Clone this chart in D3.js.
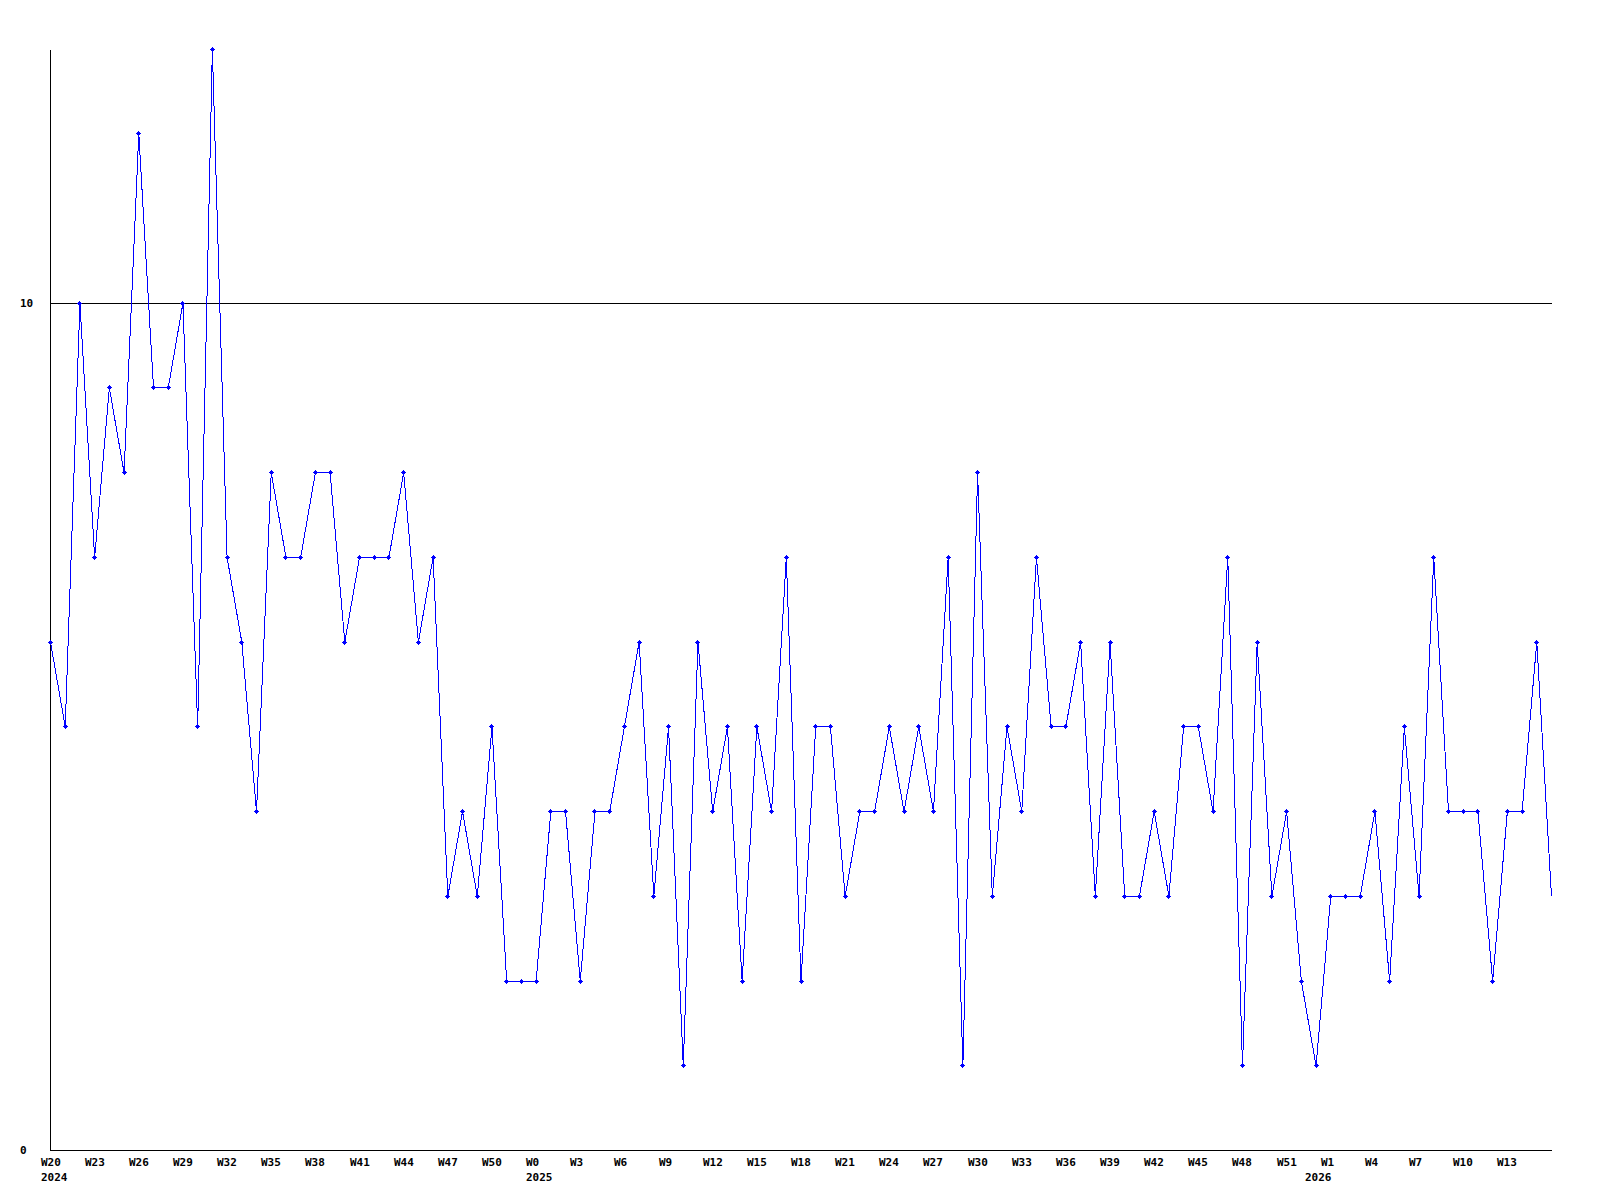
<!DOCTYPE html>
<html><head><meta charset="utf-8">
<script src="https://cdn.jsdelivr.net/npm/d3@7"></script>
<style>
html,body{margin:0;padding:0;background:#fff;}
svg{display:block;}
text{font-family:"DejaVu Sans Mono","Liberation Mono",monospace;font-weight:bold;font-size:11px;fill:#000;}
</style></head>
<body>
<svg id="chart" width="1600" height="1200"></svg>
<script>
// Weekly values, W20 2024 .. W14 2026
const values = [
  6,5,10,7,9,8,12,9,9,10,
  5,13,7,6,4,8,7,7,8,8,
  6,7,7,7,8,6,7,3,4,3,
  5,2,2,2,4,4,2,4,4,5,
  6,3,5,1,6,4,5,2,5,4,
  7,2,5,5,3,4,4,5,4,5,
  4,7,1,8,3,5,4,7,5,5,
  6,3,6,3,3,4,3,5,5,4,
  7,1,6,3,4,2,1,3,3,3,
  4,2,5,3,7,4,4,4,2,4,
  4,6,3
];
// Tick labels every 3rd week
const weekLabels = ["W20","W23","W26","W29","W32","W35","W38","W41","W44","W47","W50",
  "W0","W3","W6","W9","W12","W15","W18","W21","W24","W27","W30","W33","W36","W39","W42","W45","W48","W51",
  "W1","W4","W7","W10","W13"];
const yearLabels = ["2024","2025","2026"];
const yearTickIndex = [0,33,87];
const yTicks = [0,10];

const svg = d3.select("#chart");
const x = d3.scaleLinear().domain([0, values.length-1]).range([50.5, 1551.5]);
const y = d3.scaleLinear().domain([0, 13]).range([1150.5, 49]);
const py = d => Math.floor(y(d)) + 0.5;

// grid line at 10
svg.append("g").selectAll("line").data(yTicks.filter(d=>d>0)).join("line")
  .attr("x1", 50.5).attr("x2", 1551.5)
  .attr("y1", py).attr("y2", py)
  .attr("stroke","#000").attr("stroke-width",1).attr("shape-rendering","crispEdges");

// axes
svg.append("line").attr("x1",50.5).attr("x2",50.5).attr("y1",49.5).attr("y2",py(0))
  .attr("stroke","#000").attr("shape-rendering","crispEdges");
svg.append("line").attr("x1",50.5).attr("x2",1551.5).attr("y1",py(0)).attr("y2",py(0))
  .attr("stroke","#000").attr("shape-rendering","crispEdges");

// y labels
svg.append("g").selectAll("text").data(yTicks).join("text")
  .attr("x", 20).attr("y", d=>Math.floor(y(d))+3.5).text(d=>d);

// x labels
svg.append("g").selectAll("text").data(weekLabels).join("text")
  .attr("x", (d,i)=>Math.round(x(i*3))-10).attr("y", 1166).text(d=>d);
const yearDx = [-10,-10,-26];
svg.append("g").selectAll("text").data(yearLabels).join("text")
  .attr("x", (d,i)=>Math.round(x(yearTickIndex[i]))+yearDx[i]).attr("y", 1181).text(d=>d);

// line
const line = d3.line().x((d,i)=>x(i)).y(d=>y(d));
svg.append("path").datum(values).attr("d", line)
  .attr("fill","none").attr("stroke","#0000ff").attr("stroke-width",1)
  .attr("shape-rendering","crispEdges");

// markers (all but the last point)
const mk = svg.append("g").attr("fill","#0000ff").attr("shape-rendering","crispEdges");
const pts = values.slice(0, values.length-1);
mk.selectAll("g").data(pts).join("g")
  .attr("transform",(d,i)=>`translate(${Math.floor(x(i))},${Math.floor(y(d))})`)
  .each(function(){
    const g = d3.select(this);
    g.append("rect").attr("x",-2).attr("y",0).attr("width",5).attr("height",1);
    g.append("rect").attr("x",0).attr("y",-2).attr("width",1).attr("height",5);
    g.append("rect").attr("x",-1).attr("y",-1).attr("width",3).attr("height",3);
  });
</script>
</body></html>
